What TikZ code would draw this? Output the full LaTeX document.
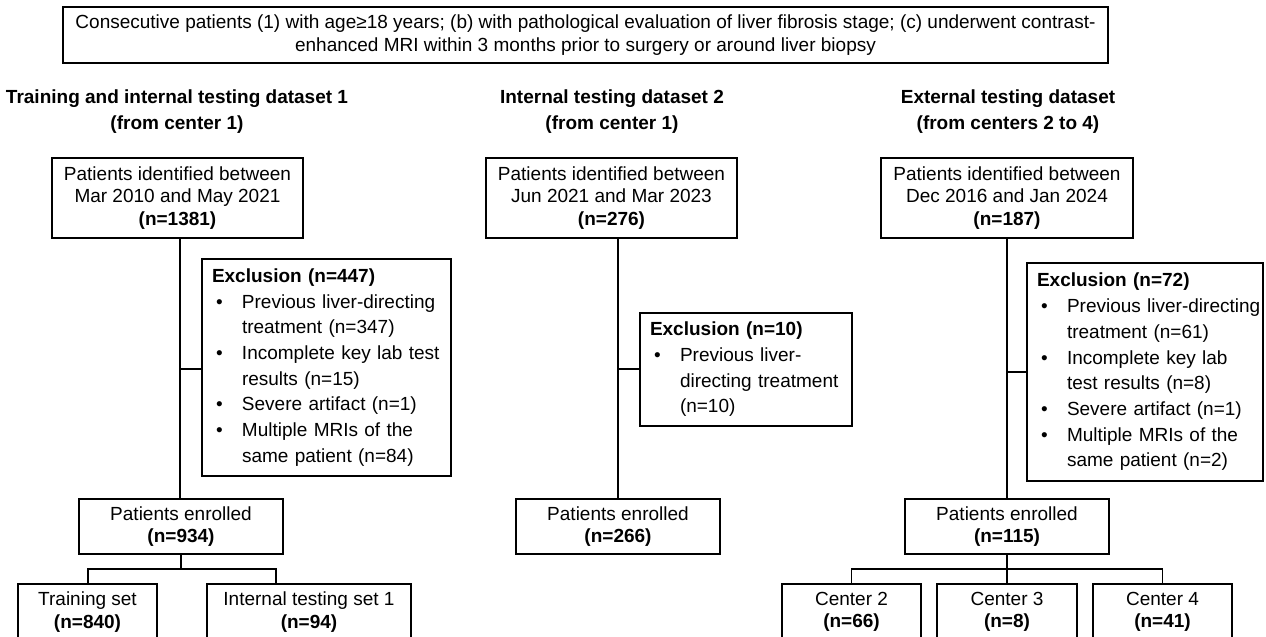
\documentclass[tikz,border=0pt]{standalone}
\usepackage{fontspec}
\setmainfont{Liberation Sans}
\newcommand\bitem[1]{\makebox[30pt][l]{\hspace{4pt}•}\mbox{#1}}
\newcommand\cont[1]{\hspace*{30pt}\mbox{#1}}
\begin{document}
\begin{tikzpicture}[x=1pt,y=-1pt,
  box/.style={draw, line width=1.1pt, align=center, inner sep=0pt,
    font=\fontsize{19}{22.5}\selectfont},
  exbox/.style={draw, line width=1.1pt, align=left, inner xsep=10pt, inner ysep=0pt,
    font=\fontsize{19}{25.7}\selectfont},
  head/.style={align=center, font=\bfseries\fontsize{19}{26}\selectfont},
  conn/.style={line width=1.1pt}]
\useasboundingbox (0,0) rectangle (1266,637);
\fill[white] (0,0) rectangle (1266,637);

\node[box, minimum width=1045pt, minimum height=56pt] (top) at (585.5,35)
  {Consecutive patients (1) with age≥18 years; (b) with pathological evaluation of liver fibrosis stage; (c) underwent contrast-\\enhanced MRI within 3 months prior to surgery or around liver biopsy};

\node[head] (h1) at (177,112) {Training and internal testing dataset 1\\(from center 1)};
\node[head] (h2) at (612,112) {Internal testing dataset 2\\(from center 1)};
\node[head] (h3) at (1008,112) {External testing dataset\\(from centers 2 to 4)};

\node[box, minimum width=251pt, minimum height=80pt] (A1) at (177.5,198)
  {Patients identified between\\Mar 2010 and May 2021\\\textbf{(n=1381)}};
\node[box, minimum width=251pt, minimum height=80pt] (B1) at (611.5,198)
  {Patients identified between\\Jun 2021 and Mar 2023\\\textbf{(n=276)}};
\node[box, minimum width=252pt, minimum height=80pt] (C1) at (1007,198)
  {Patients identified between\\Dec 2016 and Jan 2024\\\textbf{(n=187)}};

\node[exbox, text width=229pt, minimum height=217pt] (E1) at (326.5,367.5)
  {\textbf{Exclusion (n=447)}\\
   \bitem{Previous liver-directing}\\
   \cont{treatment (n=347)}\\
   \bitem{Incomplete key lab test}\\
   \cont{results (n=15)}\\
   \bitem{Severe artifact (n=1)}\\
   \bitem{Multiple MRIs of the}\\
   \cont{same patient (n=84)}};
\node[exbox, text width=192pt, minimum height=113pt] (E2) at (746,369.5)
  {\textbf{Exclusion (n=10)}\\
   \bitem{Previous liver-}\\
   \cont{directing treatment}\\
   \cont{(n=10)}};
\node[exbox, text width=216pt, minimum height=218pt] (E3) at (1145,372)
  {\textbf{Exclusion (n=72)}\\
   \bitem{Previous liver-directing}\\
   \cont{treatment (n=61)}\\
   \bitem{Incomplete key lab}\\
   \cont{test results (n=8)}\\
   \bitem{Severe artifact (n=1)}\\
   \bitem{Multiple MRIs of the}\\
   \cont{same patient (n=2)}};

\node[box, minimum width=204pt, minimum height=55pt] (P1) at (181,526.5)
  {Patients enrolled\\\textbf{(n=934)}};
\node[box, minimum width=204pt, minimum height=55pt] (P2) at (618,526.5)
  {Patients enrolled\\\textbf{(n=266)}};
\node[box, minimum width=204pt, minimum height=55pt] (P3) at (1007,526.5)
  {Patients enrolled\\\textbf{(n=115)}};

\node[box, minimum width=139pt, minimum height=56pt] (T1) at (87.5,612)
  {Training set\\\textbf{(n=840)}};
\node[box, minimum width=204pt, minimum height=56pt] (T2) at (309,612)
  {Internal testing set 1\\\textbf{(n=94)}};
\node[box, minimum width=139pt, minimum height=56pt] (K2) at (851.5,612)
  {Center 2\\\textbf{(n=66)}};
\node[box, minimum width=140pt, minimum height=56pt] (K3) at (1007,612)
  {Center 3\\\textbf{(n=8)}};
\node[box, minimum width=139pt, minimum height=56pt] (K4) at (1162.5,612)
  {Center 4\\\textbf{(n=41)}};

% column 1
\coordinate (v1) at (180,369);
\draw[conn] (v1 |- A1.south) -- (v1 |- P1.north);
\draw[conn] (v1) -- (v1 -| E1.west);
\coordinate (j1l) at (88,569);
\coordinate (j1r) at (276,569);
\draw[conn] (P1.south) -- (P1.south |- j1l);
\draw[conn] (j1l |- T1.north) -- (j1l) -- (j1r) -- (j1r |- T2.north);

% column 2
\coordinate (v2) at (618,369);
\draw[conn] (v2 |- B1.south) -- (P2.north);
\draw[conn] (v2) -- (v2 -| E2.west);

% column 3
\coordinate (v3) at (1007,372);
\draw[conn] (C1.south) -- (P3.north);
\draw[conn] (v3) -- (v3 -| E3.west);
\coordinate (j3) at (1007,569);
\draw[conn] (P3.south) -- (K3.north);
\draw[conn] (K2.north) -- (K2.north |- j3) -- (K4.north |- j3) -- (K4.north);
\end{tikzpicture}
\end{document}
